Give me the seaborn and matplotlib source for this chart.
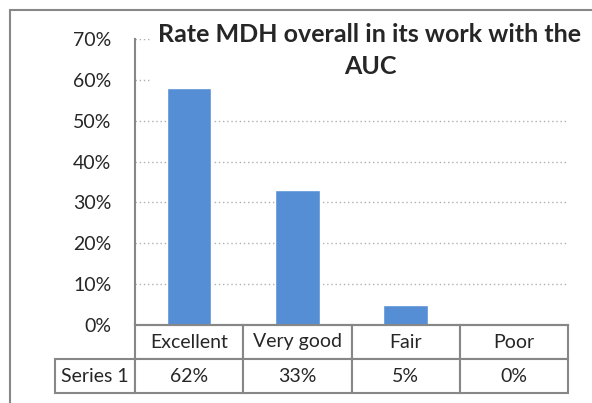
import matplotlib
matplotlib.use("Agg")
import matplotlib.pyplot as plt
import seaborn as sns
from matplotlib.patches import Rectangle
from matplotlib.table import Table
from matplotlib.ticker import PercentFormatter, MultipleLocator

categories = ["Excellent", "Very good", "Fair", "Poor"]
bar_values = [0.58, 0.33, 0.05, 0.0]
table_labels = ["62%", "33%", "5%", "0%"]
series_name = "Series 1"
title = "Rate MDH overall in its work with the\nAUC"

sns.set_style("white")
plt.rcParams["font.family"] = ["Lato", "DejaVu Sans"]

W, H = 592, 403
fig = plt.figure(figsize=(W / 100, H / 100), dpi=100)
ax = fig.add_axes([135 / W, (H - 325) / H, 433 / W, 286 / H])

grey = "#878787"
sns.barplot(x=categories, y=bar_values, color="#558ED5", width=0.41,
            saturation=1, ax=ax, zorder=2)

ax.set_ylim(0, 0.7)
ax.set_xlim(-0.5, len(categories) - 0.5)
ax.yaxis.set_major_locator(MultipleLocator(0.1))
ax.yaxis.set_major_formatter(PercentFormatter(1.0, decimals=0))
ax.yaxis.grid(True, linestyle=(0, (1, 2)), color="#B0B0B0", linewidth=1)
ax.set_axisbelow(True)
ax.tick_params(axis="y", direction="out", length=5, width=1.2, color=grey,
               pad=12, labelsize=14)
ax.tick_params(axis="x", length=0, labelbottom=False)
ax.set_xlabel("")
ax.set_ylabel("")
for side in ["top", "right"]:
    ax.spines[side].set_visible(False)
for side in ["left", "bottom"]:
    ax.spines[side].set_color(grey)
    ax.spines[side].set_linewidth(1.5)

# data table under the plot
tbl = Table(ax, bbox=[(55 - 135) / 433, -68 / 286, (568 - 55) / 433, 68 / 286])
for j, cat in enumerate(categories):
    tbl.add_cell(0, j + 1, width=108, height=34, text=cat, loc="center")
tbl.add_cell(1, 0, width=80, height=34, text=series_name, loc="center")
for j, lab in enumerate(table_labels):
    tbl.add_cell(1, j + 1, width=108, height=34, text=lab, loc="center")
tbl.auto_set_font_size(False)
tbl.set_fontsize(14)
for cell in tbl.get_celld().values():
    cell.set_edgecolor(grey)
    cell.set_linewidth(1.5)
ax.add_table(tbl)

ax.text((370 - 135) / 433, 1 + 16 / 286, title, transform=ax.transAxes,
        ha="center", va="top", fontsize=18, fontweight="bold",
        linespacing=1.5, zorder=5,
        bbox=dict(facecolor="white", edgecolor="none", pad=5))

fig.patches.append(Rectangle((10 / W, -0.2), 1.2, 1.2 - 10 / H,
                             transform=fig.transFigure, fill=False,
                             edgecolor=grey, linewidth=1.5))

fig.savefig("out.png", dpi=100)
